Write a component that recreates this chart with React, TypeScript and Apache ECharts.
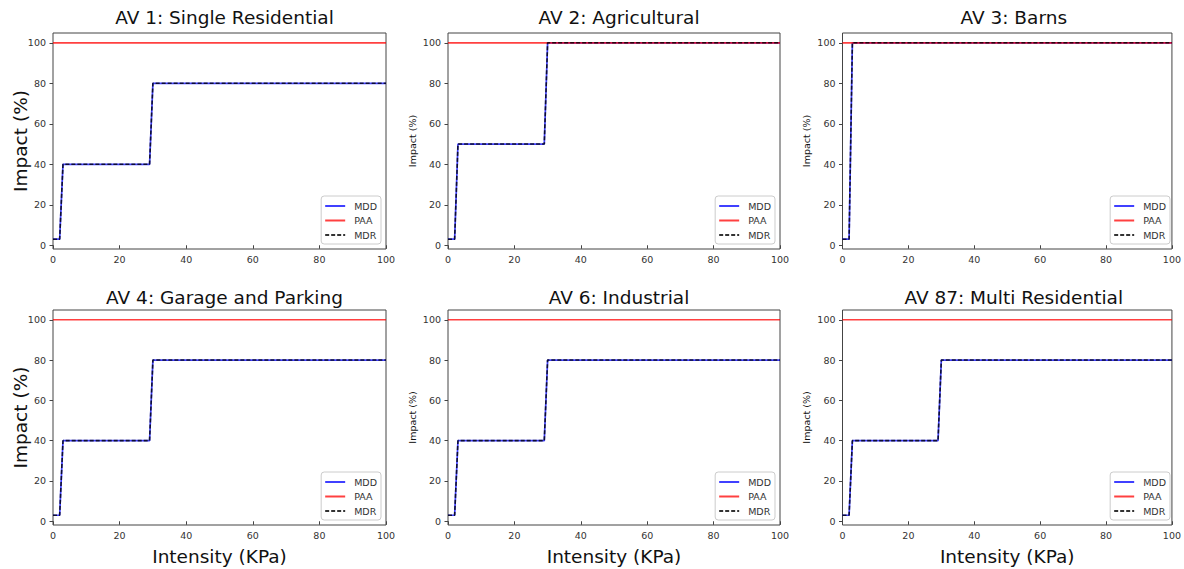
import React, { useEffect, useRef } from "react";
import * as echarts from "echarts";

const titles = [
  "AV 1: Single Residential",
  "AV 2: Agricultural",
  "AV 3: Barns",
  "AV 4: Garage and Parking",
  "AV 6: Industrial",
  "AV 87: Multi Residential",
];

const intensity = [0, 2, 3, 29, 30, 100];

const mdd1 = [3, 3, 40, 40, 80, 80];
const mdd2 = [3, 3, 50, 50, 100, 100];
const mdd3 = [3, 3, 100, 100, 100, 100];
const mdd4 = [3, 3, 40, 40, 80, 80];
const mdd6 = [3, 3, 40, 40, 80, 80];
const mdd87 = [3, 3, 40, 40, 80, 80];

const paa = [100, 100, 100, 100, 100, 100];

const mddList = [mdd1, mdd2, mdd3, mdd4, mdd6, mdd87];

const xTicks = [0, 20, 40, 60, 80, 100];
const yTicks = [0, 20, 40, 60, 80, 100];

const W = 1184;
const H = 569;
const FONT = "DejaVu Sans";

const colX = [
  [53, 386],
  [448, 780],
  [842.5, 1175],
];
const rowY = [
  [33, 249],
  [310, 525],
];

export default function App() {
  const ref = useRef<HTMLDivElement>(null);

  useEffect(() => {
    if (!ref.current) return;
    const chart = echarts.init(ref.current, undefined, { renderer: "svg" });

    const grids: any[] = [];
    const xAxes: any[] = [];
    const yAxes: any[] = [];
    const series: any[] = [];
    const title: any[] = [];
    const legends: any[] = [];

    for (let i = 0; i < 6; i++) {
      const r = Math.floor(i / 3);
      const c = i % 3;
      const [l, rr] = colX[c];
      const [t, b] = rowY[r];
      grids.push({
        left: l,
        top: t,
        width: rr - l,
        height: b - t,
        show: true,
        borderColor: "#444",
        borderWidth: 1,
        backgroundColor: "transparent",
      });
      const big = c === 0;
      xAxes.push({
        type: "value",
        gridIndex: i,
        min: 0,
        max: 100,
        interval: 20,
        name: r === 1 ? "Intensity (KPa)" : "",
        nameLocation: "middle",
        nameGap: 22,
        nameMoveOverlap: false,
        nameTextStyle: { fontFamily: FONT, fontSize: 18.5, color: "#111" },
        axisLine: { show: false },
        axisTick: { show: true, length: 3.5, inside: false, lineStyle: { color: "#444" } },
        axisLabel: {
          fontFamily: FONT,
          fontSize: 9.5,
          color: "#333",
          margin: 5,
          customValues: xTicks,
        },
        splitLine: { show: false },
      });
      yAxes.push({
        type: "value",
        gridIndex: i,
        min: -1.85,
        max: 104.85,
        name: "Impact (%)",
        nameLocation: "middle",
        nameGap: big ? 23 : 31,
        nameMoveOverlap: false,
        nameTextStyle: { fontFamily: FONT, fontSize: big ? 18.5 : 9.5, color: "#111" },
        axisLine: { show: false },
        axisTick: {
          show: true,
          length: 3.5,
          inside: false,
          customValues: yTicks,
          lineStyle: { color: "#444" },
        },
        axisLabel: {
          fontFamily: FONT,
          fontSize: 9.5,
          color: "#333",
          margin: 7,
          customValues: yTicks,
        },
        splitLine: { show: false },
      });
      title.push({
        text: titles[i],
        left: (l + rr) / 2,
        top: r === 0 ? 3 : 283,
        textAlign: "center",
        textStyle: { fontFamily: FONT, fontSize: 18.5, fontWeight: "normal", color: "#111" },
      });
      legends.push({
        orient: "vertical",
        right: W - (rr - 5),
        bottom: H - (b - 5),
        data: ["MDD", "PAA", "MDR"],
        itemWidth: 20,
        itemHeight: 10,
        itemGap: 4.5,
        padding: [5, 4, 4, 3],
        borderColor: "#ccc",
        borderWidth: 1,
        borderRadius: 3,
        backgroundColor: "rgba(255,255,255,0.8)",
        selectedMode: false,
        itemStyle: { opacity: 0 },
        textStyle: { fontFamily: FONT, fontSize: 9.5, color: "#333", padding: [0, 0, 0, 4] },
      });
      const mdd = mddList[i];
      const mddData = intensity.map((x, k) => [x, mdd[k]]);
      const paaData = intensity.map((x, k) => [x, paa[k]]);
      const mdrData = intensity.map((x, k) => [x, (mdd[k] * paa[k]) / 100]);
      series.push({
        name: "MDD",
        type: "line",
        xAxisIndex: i,
        yAxisIndex: i,
        data: mddData,
        symbol: "none",
        lineStyle: { color: "#0000ff", width: 1.7, opacity: 0.75 },
        itemStyle: { color: "#0000ff", opacity: 0.75 },
        z: 2,
      });
      series.push({
        name: "PAA",
        type: "line",
        xAxisIndex: i,
        yAxisIndex: i,
        data: paaData,
        symbol: "none",
        lineStyle: { color: "#ff0000", width: 1.7, opacity: 0.75 },
        itemStyle: { color: "#ff0000", opacity: 0.75 },
        z: 3,
      });
      series.push({
        name: "MDR",
        type: "line",
        xAxisIndex: i,
        yAxisIndex: i,
        data: mdrData,
        symbol: "none",
        lineStyle: { color: "#000000", width: 1.6, opacity: 0.8, type: [4, 2] },
        itemStyle: { color: "#000000", opacity: 0.8 },
        z: 4,
      });
    }

    chart.setOption({
      animation: false,
      backgroundColor: "#ffffff",
      title,
      legend: legends,
      grid: grids,
      xAxis: xAxes,
      yAxis: yAxes,
      series,
    });

    return () => chart.dispose();
  }, []);

  return (
    <div
      ref={ref}
      style={{ position: "fixed", left: 0, top: 0, width: W, height: H }}
    />
  );
}
